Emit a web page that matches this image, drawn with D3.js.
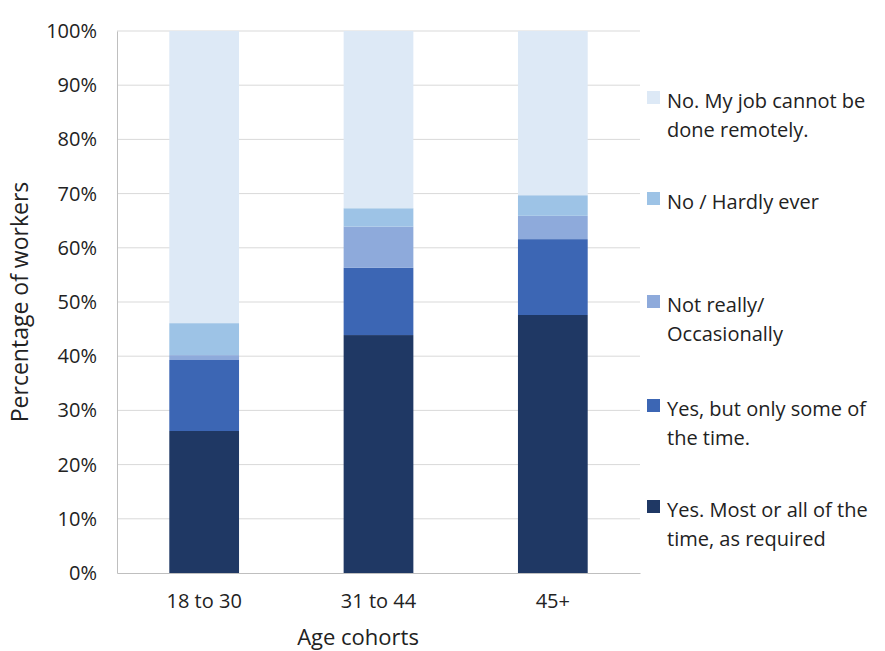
<!DOCTYPE html>
<html><head><meta charset="utf-8">
<script src="https://cdn.jsdelivr.net/npm/d3@7"></script>
<style>body{margin:0;background:#fff;} text{font-family:"Open Sans",sans-serif;fill:#222;}</style>
</head><body><svg id="c" width="885" height="651"></svg>
<script>
const categories = ["18 to 30", "31 to 44", "45+"];
const seriesNames = ["Yes. Most or all of the time, as required", "Yes, but only some of the time.", "Not really/ Occasionally", "No / Hardly ever", "No. My job cannot be done remotely."];
const mostAll   = [26.2, 43.9, 47.6];
const someTime  = [13.1, 12.4, 14.0];
const notReally = [0.9, 7.6, 4.3];
const hardly    = [5.9, 3.4, 3.8];
const cannot    = [53.9, 32.7, 30.3];
const colors = ["#1f3864", "#3c66b4", "#8eaadb", "#9dc3e6", "#dde9f6"];
const legendLines = [["No. My job cannot be", "done remotely."], ["No / Hardly ever"], ["Not really/", "Occasionally"], ["Yes, but only some of", "the time."], ["Yes. Most or all of the", "time, as required"]];
const yTicks = [0,10,20,30,40,50,60,70,80,90,100];

const seriesVals = [mostAll, someTime, notReally, hardly, cannot];
const data = categories.map((c,i)=>{const o={cat:c}; seriesNames.forEach((s,j)=>o[s]=seriesVals[j][i]); return o;});
const stack = d3.stack().keys(seriesNames)(data);

const svg = d3.select("#c");
const m = {l:117, r:640, t:31, b:573};
const x = d3.scaleBand().domain(categories).range([m.l, m.r]).paddingInner(0.6).paddingOuter(0.3);
const y = d3.scaleLinear().domain([0,100]).range([m.b, m.t]);

svg.append("g").selectAll("line").data(yTicks.filter(d=>d>0)).join("line")
  .attr("x1", m.l).attr("x2", m.r).attr("y1", d=>y(d)).attr("y2", d=>y(d))
  .attr("stroke", "#d9d9d9").attr("stroke-width", 1);

svg.append("g").selectAll("g").data(stack).join("g").attr("fill",(d,i)=>colors[i])
  .selectAll("rect").data(d=>d).join("rect")
  .attr("x", d=>x(d.data.cat)).attr("width", x.bandwidth())
  .attr("y", d=>y(d[1])).attr("height", d=>y(d[0])-y(d[1]));

const ya = svg.append("g").attr("transform",`translate(${m.l},0)`).call(d3.axisLeft(y).tickValues(yTicks).tickFormat(d=>d+"%").tickSize(0).tickPadding(20));
ya.select(".domain").attr("stroke","#bfbfbf");
ya.selectAll("text").style("font-size","20px").attr("fill","#262626");
const xa = svg.append("g").attr("transform",`translate(0,${m.b})`).call(d3.axisBottom(x).tickSize(0).tickPadding(21));
xa.select(".domain").attr("stroke","#bfbfbf");
xa.selectAll("text").style("font-size","20px").attr("fill","#262626");

svg.append("text").attr("x", 358).attr("y", 645).attr("text-anchor","middle").style("font-size","22px").text("Age cohorts");
svg.append("text").attr("transform",`translate(28,${(m.t+m.b)/2}) rotate(-90)`).attr("text-anchor","middle").style("font-size","23px").text("Percentage of workers");

const legY = [102, 203, 306, 410, 511];
const lg = svg.append("g");
legendLines.forEach((lines,i)=>{
  lg.append("rect").attr("x",647).attr("y",legY[i]-11).attr("width",13).attr("height",13).attr("fill",colors[4-i]);
  lines.forEach((t,k)=>lg.append("text").attr("x",667).attr("y",legY[i]+6+k*29).style("font-size","20px").text(t));
});
</script></body></html>
